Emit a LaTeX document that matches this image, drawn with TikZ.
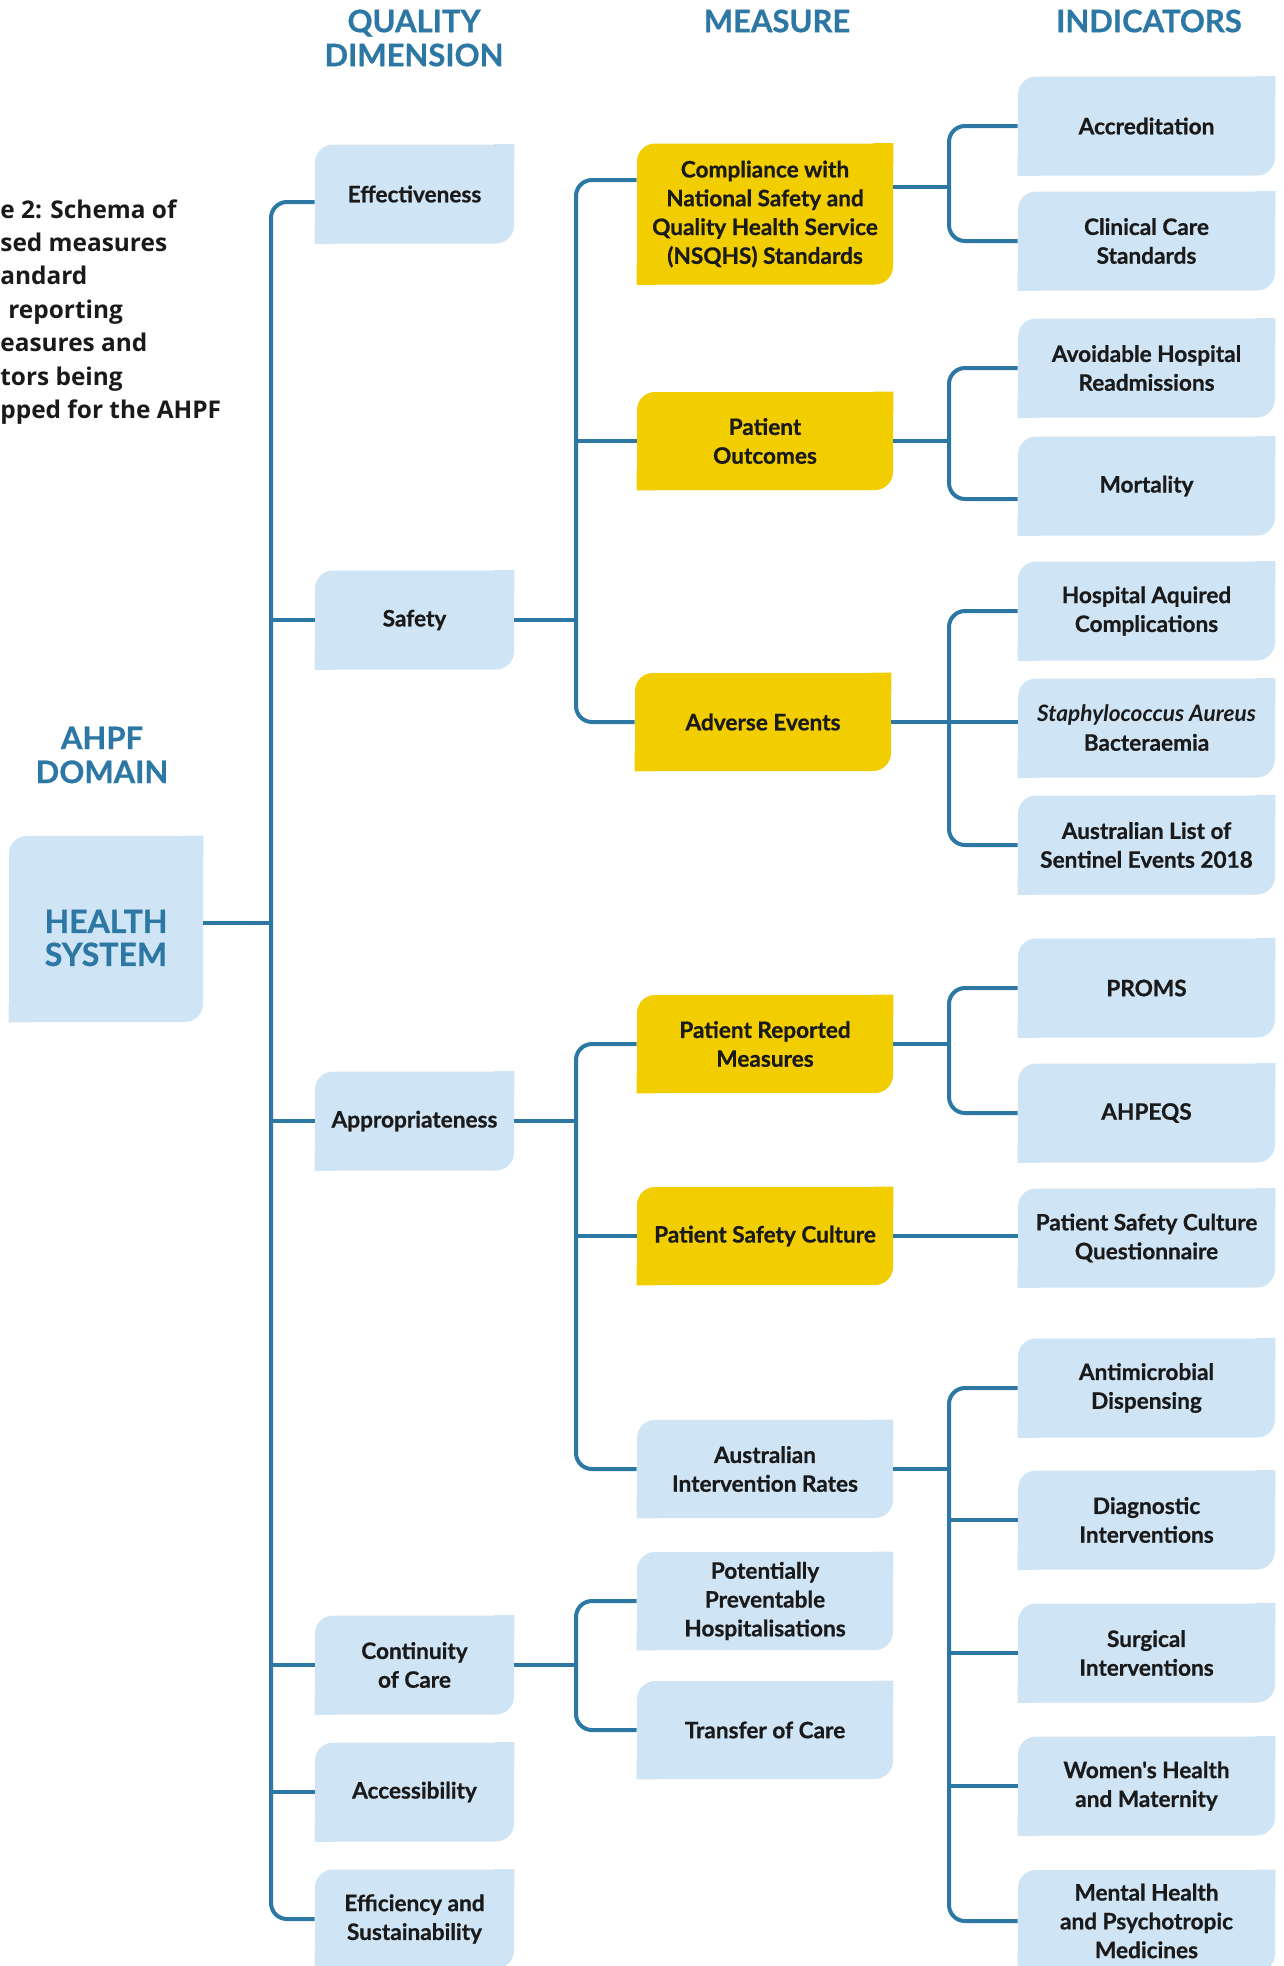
\documentclass[tikz,border=0pt]{standalone}
\usepackage{fontspec}
\setmainfont{Lato}[Ligatures=TeXOff, BoldFeatures={FakeBold=0.7}]
\newfontfamily\capfont{Open Sans}
\definecolor{boxblue}{RGB}{207,228,244}
\definecolor{boxgold}{RGB}{242,205,0}
\definecolor{linkblue}{RGB}{44,119,164}
\definecolor{ink}{RGB}{26,26,26}
\tikzset{
  box/.style={fill=boxblue, rounded corners=9pt, inner sep=0pt, align=center, text=ink,
    font=\bfseries\fontsize{11.3}{14.4}\selectfont},
  dimbox/.style={box, minimum width=99.5pt, minimum height=49.5pt},
  measbox/.style={box, minimum width=128pt, minimum height=49pt},
  indbox/.style={box, minimum width=128.5pt, minimum height=49.5pt},
  gold/.style={fill=boxgold},
  link/.style={draw=linkblue, line width=2pt, rounded corners=8pt},
  head/.style={text=linkblue, align=center, inner sep=0pt, font=\bfseries\fontsize{15.5}{17}\selectfont}
}
\begin{document}
\begin{tikzpicture}[x=0.5pt,y=-0.5pt]
\useasboundingbox (0,0) rectangle (1284,1966);
% column heads
\node[head] (hqual) at (414,38) {QUALITY\\DIMENSION};
\node[head] (hmeas) at (777,21) {MEASURE};
\node[head] (hind) at (1149,21) {INDICATORS};
\node[head] (hdom) at (102,755) {AHPF\\DOMAIN};
% caption, cut at the left edge
\node[anchor=north west, align=left, inner sep=0pt, text=ink,
  font=\capfont\bfseries\fontsize{12.2}{16.7}\selectfont] (caption) at (0,199)
  {e 2: Schema of\\sed measures\\andard\\\hspace*{4pt}reporting\\easures and\\tors being\\pped for the AHPF};
% domain
\node[box, minimum width=97pt, minimum height=93pt] (hs) at (106,929) {};
\node[text=linkblue, align=center, inner sep=0pt,
  font=\bfseries\fontsize{16}{16.5}\selectfont] (hstext) at (106,938) {HEALTH\\SYSTEM};
% quality dimensions
\node[dimbox] (effect) at (414.5,194) {Effectiveness};
\node[dimbox] (safety) at (414.5,620) {Safety};
\node[dimbox] (approp) at (414.5,1121) {Appropriateness};
\node[dimbox] (contin) at (414.5,1665) {Continuity\\of Care};
\node[dimbox] (access) at (414.5,1792) {Accessibility};
\node[dimbox] (effic) at (414.5,1919) {Efficiency and\\Sustainability};
% measures
\node[measbox, gold, minimum height=70.5pt] (compl) at (765,214) {Compliance with\\National Safety and\\Quality Health Service\\(NSQHS) Standards};
\node[measbox, gold] (outcome) at (765,441) {Patient\\Outcomes};
\node[measbox, gold] (adverse) at (763,722) {Adverse Events};
\node[measbox, gold] (prm) at (765,1044) {Patient Reported\\Measures};
\node[measbox, gold] (psc) at (765,1236) {Patient Safety Culture};
\node[measbox] (air) at (765,1469) {Australian\\Intervention Rates};
\node[measbox] (pph) at (765,1601) {Potentially\\Preventable\\Hospitalisations};
\node[measbox] (transfer) at (765,1730) {Transfer of Care};
% indicators
\node[indbox] (accred) at (1146.5,126) {Accreditation};
\node[indbox] (ccs) at (1146.5,241) {Clinical Care\\Standards};
\node[indbox] (ahr) at (1146.5,368) {Avoidable Hospital\\Readmissions};
\node[indbox] (mort) at (1146.5,486) {Mortality};
\node[indbox] (hac) at (1146.5,611) {Hospital Aquired\\Complications};
\node[indbox] (sab) at (1146.5,728) {\textit{Staphylococcus Aureus}\\Bacteraemia};
\node[indbox] (alse) at (1146.5,845) {Australian List of\\Sentinel Events 2018};
\node[indbox] (proms) at (1146.5,988) {PROMS};
\node[indbox] (ahpeqs) at (1146.5,1113) {AHPEQS};
\node[indbox] (pscq) at (1146.5,1238) {Patient Safety Culture\\Questionnaire};
\node[indbox] (amd) at (1146.5,1388) {Antimicrobial\\Dispensing};
\node[indbox] (diag) at (1146.5,1520) {Diagnostic\\Interventions};
\node[indbox] (surg) at (1146.5,1653) {Surgical\\Interventions};
\node[indbox] (women) at (1146.5,1786) {Women's Health\\and Maternity};
\node[indbox, minimum height=51pt] (mental) at (1146.5,1921) {Mental Health\\and Psychotropic\\Medicines};
% square corners (top right, bottom left)
\foreach \n in {hs,effect,safety,approp,contin,access,effic,air,pph,transfer,accred,ccs,ahr,mort,hac,sab,alse,proms,ahpeqs,pscq,amd,diag,surg,women,mental}
  \fill[boxblue] (\n.north east) rectangle ++(-10pt,-10pt) (\n.south west) rectangle ++(10pt,10pt);
\foreach \n in {compl,outcome,adverse,prm,psc}
  \fill[boxgold] (\n.north east) rectangle ++(-10pt,-10pt) (\n.south west) rectangle ++(10pt,10pt);
% buses
\coordinate (busA) at (271,0);
\coordinate (busB) at (576,0);
\coordinate (busC) at (949,0);
\coordinate (hsout) at ([yshift=3pt]hs.east);
\coordinate (effin) at ([yshift=-4pt]effect.west);
\coordinate (complin) at ([yshift=17pt]compl.west);
\coordinate (complout) at ([yshift=13.5pt]compl.east);
\coordinate (mortin) at ([yshift=-6.5pt]mort.west);
% domain to dimensions
\draw[link] (hsout) -- (hsout -| busA);
\draw[link] (effin) -| (effic.west -| busA) -- (effic.west);
\foreach \n in {safety,approp,contin,access}
  \draw[link] (\n.west) -- (\n.west -| busA);
% dimensions to measures
\draw[link] (complin) -| (adverse.west -| busB) -- (adverse.west);
\draw[link] (safety.east) -- (safety.east -| busB);
\draw[link] (outcome.west) -- (outcome.west -| busB);
\draw[link] (prm.west) -| (air.west -| busB) -- (air.west);
\draw[link] (approp.east) -- (approp.east -| busB);
\draw[link] (psc.west) -- (psc.west -| busB);
\draw[link] (pph.west) -| (transfer.west -| busB) -- (transfer.west);
\draw[link] (contin.east) -- (contin.east -| busB);
% measures to indicators
\draw[link] (accred.west) -| (ccs.west -| busC) -- (ccs.west);
\draw[link] (complout) -- (complout -| busC);
\draw[link] (ahr.west) -| (mortin -| busC) -- (mortin);
\draw[link] (outcome.east) -- (outcome.east -| busC);
\draw[link] (hac.west) -| (alse.west -| busC) -- (alse.west);
\draw[link] (adverse.east) -- (adverse.east -| sab.west);
\draw[link] (proms.west) -| (ahpeqs.west -| busC) -- (ahpeqs.west);
\draw[link] (prm.east) -- (prm.east -| busC);
\draw[link] (psc.east) -- (psc.east -| pscq.west);
\draw[link] (amd.west) -| (mental.west -| busC) -- (mental.west);
\draw[link] (air.east) -- (air.east -| busC);
\foreach \n in {diag,surg,women}
  \draw[link] (\n.west) -- (\n.west -| busC);
\end{tikzpicture}
\end{document}
